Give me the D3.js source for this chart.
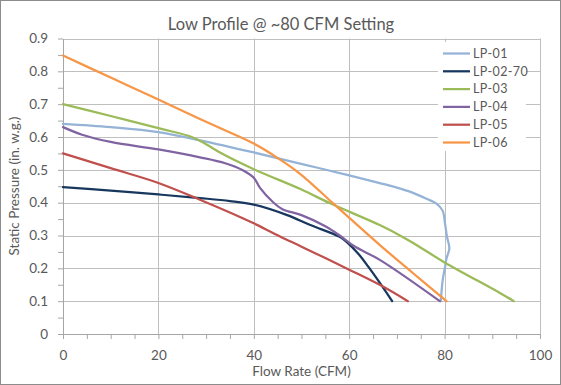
<!DOCTYPE html>
<html>
<head>
<meta charset="utf-8">
<script src="https://cdn.jsdelivr.net/npm/d3@7"></script>
<style>
  html, body { margin: 0; padding: 0; background: #fff; }
  svg { display: block; font-family: Lato, "Open Sans", sans-serif; }
</style>
</head>
<body>
<svg id="chart" width="561" height="385"></svg>
<script>
// ---- data ----
const seriesNames = ["LP-01", "LP-02-70", "LP-03", "LP-04", "LP-05", "LP-06"];
const seriesColors = ["#95b3d7", "#17375e", "#9bbb59", "#8064a2", "#c0504d", "#f79646"];

const lp01Flow = [0, 10, 20, 28.7, 40, 49.7, 60, 66, 70, 73, 76.2, 78.3, 79.6, 80.1, 80.5, 81, 80.4, 80.1, 79.6, 79.2];
const lp01Pres = [0.64, 0.63, 0.615, 0.59, 0.553, 0.519, 0.483, 0.461, 0.446, 0.432, 0.412, 0.397, 0.375, 0.335, 0.296, 0.261, 0.23, 0.205, 0.164, 0.1];

const lp02Flow = [0, 10, 20, 28.7, 35, 40, 47, 52, 58, 59.5, 62, 64, 66.5, 69];
const lp02Pres = [0.447, 0.437, 0.425, 0.414, 0.405, 0.394, 0.362, 0.331, 0.296, 0.28, 0.243, 0.205, 0.154, 0.1];

const lp03Flow = [0, 10, 20, 27, 30, 33, 40, 50, 56, 66.5, 71.3, 74, 80, 91.6, 94.5];
const lp03Pres = [0.70, 0.664, 0.627, 0.60, 0.578, 0.552, 0.502, 0.440, 0.398, 0.331, 0.295, 0.272, 0.218, 0.125, 0.1];

const lp04Flow = [0, 4, 10, 20, 28.7, 34, 37.8, 40, 41.3, 44, 46, 50, 55, 58, 61, 66.5, 79];
const lp04Pres = [0.63, 0.607, 0.585, 0.562, 0.538, 0.52, 0.498, 0.476, 0.445, 0.402, 0.38, 0.362, 0.328, 0.3, 0.268, 0.225, 0.1];

const lp05Flow = [0, 10, 20, 28.7, 37.8, 40, 45.5, 50, 60, 66.5, 72.3];
const lp05Pres = [0.55, 0.505, 0.46, 0.409, 0.352, 0.337, 0.297, 0.266, 0.196, 0.149, 0.1];

const lp06Flow = [0, 10, 20, 28.7, 35, 40, 44.8, 49.7, 56.7, 66.5, 73.4, 80.4];
const lp06Pres = [0.848, 0.781, 0.714, 0.655, 0.614, 0.58, 0.538, 0.488, 0.397, 0.27, 0.185, 0.1];

const xTicks = [0, 20, 40, 60, 80, 100];
const yTicks = [0, 0.1, 0.2, 0.3, 0.4, 0.5, 0.6, 0.7, 0.8, 0.9];
const titleText = "Low Profile @ ~80 CFM Setting";
const xTitle = "Flow Rate (CFM)";
const yTitle = "Static Pressure (in. w.g.)";

const flows = [lp01Flow, lp02Flow, lp03Flow, lp04Flow, lp05Flow, lp06Flow];
const pressures = [lp01Pres, lp02Pres, lp03Pres, lp04Pres, lp05Pres, lp06Pres];
const series = seriesNames.map((name, i) => ({
  name, color: seriesColors[i],
  points: flows[i].map((f, j) => ({ x: f, y: pressures[i][j] }))
}));

// ---- layout ----
const svg = d3.select("#chart");
const W = 561, H = 385;
const plot = { left: 63, right: 540, top: 38.5, bottom: 334 };
const textColor = "#595959";
const gridColor = "#bfbfbf";
const axisColor = "#a6a6a6";

svg.append("rect").attr("x", 0.5).attr("y", 0.5).attr("width", W - 1).attr("height", H - 1)
  .attr("fill", "#fff").attr("stroke", "#8c8c8c");

const x = d3.scaleLinear().domain([0, 100]).range([plot.left, plot.right]);
const y = d3.scaleLinear().domain([0, 0.9]).range([plot.bottom, plot.top]);

// gridlines
svg.append("g").selectAll("line.h").data(yTicks.slice(1)).join("line")
  .attr("x1", plot.left).attr("x2", plot.right)
  .attr("y1", d => Math.round(y(d)) + 0.5).attr("y2", d => Math.round(y(d)) + 0.5)
  .attr("stroke", gridColor);
svg.append("g").selectAll("line.v").data(xTicks.slice(1)).join("line")
  .attr("y1", plot.top).attr("y2", plot.bottom)
  .attr("x1", d => Math.round(x(d)) + 0.5).attr("x2", d => Math.round(x(d)) + 0.5)
  .attr("stroke", gridColor);

// axes
const minorX = d3.range(0, 100.01, 5);
const minorY = d3.range(0, 0.901, 0.05);
const gx = svg.append("g").attr("transform", `translate(0,${plot.bottom})`);
gx.call(d3.axisBottom(x).tickValues(minorX).tickFormat("").tickSize(5).tickSizeOuter(0));
const gxl = svg.append("g").attr("transform", `translate(0,${plot.bottom})`);
gxl.call(d3.axisBottom(x).tickValues(xTicks).tickFormat(d3.format("d")).tickSize(0).tickPadding(16));
gxl.select(".domain").remove();

const gy = svg.append("g").attr("transform", `translate(${plot.left},0)`);
gy.call(d3.axisLeft(y).tickValues(minorY).tickFormat("").tickSize(5).tickSizeOuter(0));
const gyl = svg.append("g").attr("transform", `translate(${plot.left},0)`);
gyl.call(d3.axisLeft(y).tickValues(yTicks).tickFormat(d => d === 0 ? "0" : d3.format(".1f")(d)).tickSize(0).tickPadding(15));
gyl.select(".domain").remove();

[gx, gy].forEach(g => {
  g.select(".domain").attr("stroke", axisColor);
  g.selectAll(".tick line").attr("stroke", axisColor);
});
[gxl, gyl].forEach(g => {
  g.selectAll(".tick text").attr("fill", textColor).attr("font-size", 13.5)
    .attr("font-family", "Lato, sans-serif");
});

// lines
const line = d3.line().x(d => x(d.x)).y(d => y(d.y)).curve(d3.curveCatmullRom.alpha(0.5));
svg.append("g").selectAll("path").data(series).join("path")
  .attr("d", d => line(d.points))
  .attr("fill", "none").attr("stroke", d => d.color)
  .attr("stroke-width", 2.25).attr("stroke-linejoin", "round").attr("stroke-linecap", "round");

// titles
svg.append("text").attr("x", 281).attr("y", 30).attr("text-anchor", "middle")
  .attr("font-size", 16.5).attr("fill", textColor).text(titleText);
svg.append("text").attr("x", 301.5).attr("y", 376).attr("text-anchor", "middle")
  .attr("font-size", 13.5).attr("fill", textColor).text(xTitle);
svg.append("text").attr("transform", `translate(19,186) rotate(-90)`).attr("text-anchor", "middle")
  .attr("font-size", 13.5).attr("fill", textColor).text(yTitle);

// legend
const lg = svg.append("g");
lg.append("rect").attr("x", 438).attr("y", 42).attr("width", 88).attr("height", 109).attr("fill", "#fff");
const items = lg.selectAll("g.item").data(series).join("g")
  .attr("transform", (d, i) => `translate(443,${53.5 + i * 17.8})`);
items.append("line").attr("x1", 0).attr("x2", 27).attr("y1", 0).attr("y2", 0)
  .attr("stroke", d => d.color).attr("stroke-width", 2.25);
items.append("text").attr("x", 30).attr("y", 0).attr("dy", "0.35em")
  .attr("font-size", 12.5).attr("fill", textColor).attr("letter-spacing", 0.4).text(d => d.name);
</script>
</body>
</html>
